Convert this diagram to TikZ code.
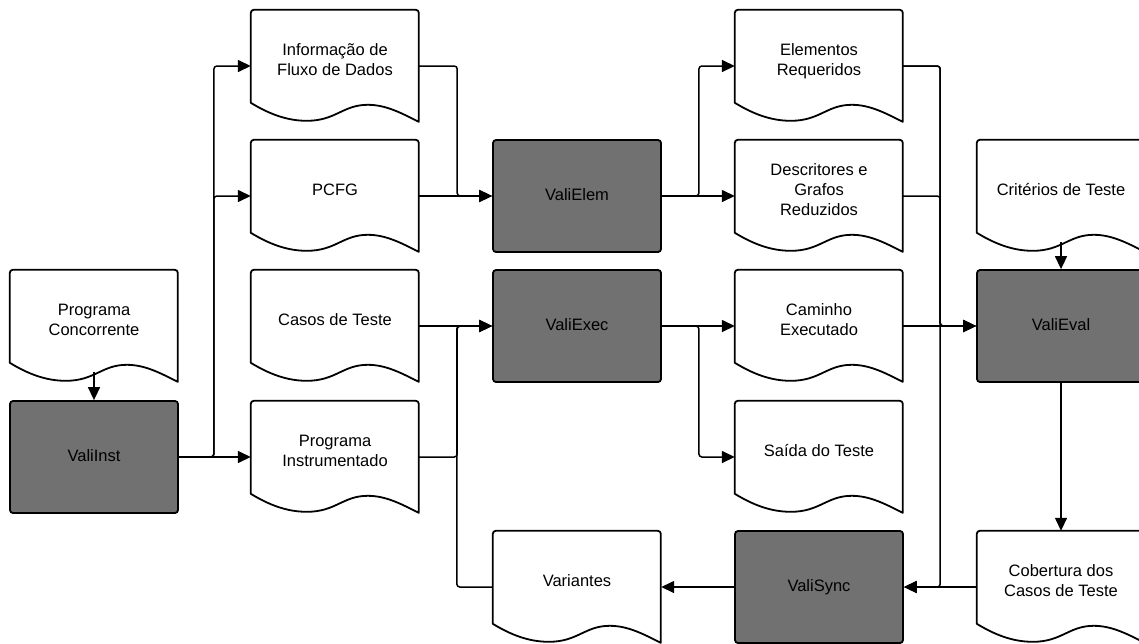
\documentclass[tikz,border=0pt]{standalone}
\usepackage{fontspec}
\setmainfont{Liberation Sans}
\usetikzlibrary{arrows.meta}
\definecolor{boxgray}{HTML}{717171}
% document label: stacked lines, centred a little above the node centre
\newcommand{\doclabel}[1]{\raisebox{0pt}[0pt][0pt]{\begin{tabular}{@{}c@{}}#1\end{tabular}}}
% process label, nudged slightly upwards
\newcommand{\proclabel}[1]{\raisebox{2pt}{#1}}

\begin{document}
\begin{tikzpicture}[x=1pt,y=1pt,
  every node/.style={font=\fontsize{16.5}{20}\selectfont, text=black},
  doc/.style={rectangle, minimum width=168pt, minimum height=112pt, inner sep=0pt},
  proc/.style={rectangle, rounded corners=3pt, draw=black, line width=1.8pt,
    fill=boxgray, minimum width=168pt, minimum height=112pt, inner sep=0pt},
  docline/.style={draw=black, line width=1.8pt, line join=round},
  link/.style={draw=black, line width=1.5pt, rounded corners=3pt,
    -{Triangle[length=13pt,width=12pt]}},
]
\useasboundingbox (0,0) rectangle (1139,-643);

% column 0
\node[doc]  (pc)    at (94,-326)  {\doclabel{Programa\\Concorrente}};
\node[proc] (vinst) at (94,-457)  {\proclabel{ValiInst}};
% column 1
\node[doc]  (info)  at (335,-66)  {\doclabel{Informação de\\Fluxo de Dados}};
\node[doc]  (pcfg)  at (335,-196) {\doclabel{PCFG}};
\node[doc]  (casos) at (335,-326) {\doclabel{Casos de Teste}};
\node[doc]  (pinst) at (335,-457) {\doclabel{Programa\\Instrumentado}};
% column 2
\node[proc] (velem) at (577,-196) {\proclabel{ValiElem}};
\node[proc] (vexec) at (577,-326) {\proclabel{ValiExec}};
\node[doc]  (var)   at (577,-587) {\doclabel{Variantes}};
% column 3
\node[doc]  (elem)  at (819,-66)  {\doclabel{Elementos\\Requeridos}};
\node[doc]  (desc)  at (819,-196) {\doclabel{Descritores e\\Grafos\\Reduzidos}};
\node[doc]  (cam)   at (819,-326) {\doclabel{Caminho\\Executado}};
\node[doc]  (said)  at (819,-457) {\doclabel{Saída do Teste}};
\node[proc] (vsync) at (819,-587) {\proclabel{ValiSync}};
% column 4
\node[doc]  (crit)  at (1061,-196) {\doclabel{Critérios de Teste}};
\node[proc] (veval) at (1061,-326) {\proclabel{ValiEval}};
\node[doc]  (cob)   at (1061,-587) {\doclabel{Cobertura dos\\Casos de Teste}};

% document outlines: rounded top corners, wavy bottom edge
\foreach \n in {pc,info,pcfg,casos,pinst,var,elem,desc,cam,said,crit,cob}
  \draw[docline, shift={(\n.north west)}]
    (0,-93) -- (0,-3) arc[start angle=180,end angle=90,radius=3]
    -- (165,0) arc[start angle=90,end angle=0,radius=3]
    -- (168,-112)
    .. controls (150,-103) and (135,-95) .. (117,-95)
    .. controls (92,-95) and (85,-111) .. (56,-111)
    .. controls (36,-111) and (18,-104) .. (0,-93) -- cycle;

% instrumentation
\draw[link] ([yshift=10pt]pc.south) -- (vinst.north);
\draw[link] (vinst.east) -- (pinst.west);
\draw[link] (vinst.east) -- ++(35,0) |- (info.west);
\draw[link] (vinst.east) -- ++(35,0) |- (pcfg.west);

% required elements
\draw[link] (info.east) -- ++(38,0) |- (velem.west);
\draw[link] (pcfg.east) -- (velem.west);
\draw[link] (velem.east) -- ++(37,0) |- (elem.west);
\draw[link] (velem.east) -- (desc.west);

% execution
\draw[link] (casos.east) -- (vexec.west);
\draw[link] (pinst.east) -- ++(38,0) |- (vexec.west);
\draw[link] (var.west) -- ++(-36,0) |- (vexec.west);
\draw[link] (vexec.east) -- (cam.west);
\draw[link] (vexec.east) -- ++(37,0) |- (said.west);

% evaluation
\draw[link] (elem.east) -- ++(37,0) |- (veval.west);
\draw[link] (desc.east) -- ++(37,0) |- (veval.west);
\draw[link] (cam.east) -- (veval.west);
\draw[link] ([yshift=10pt]crit.south) -- (veval.north);
\draw[link] (veval.south) -- (cob.north);

% synchronisation
\draw[link] (elem.east) -- ++(37,0) |- (vsync.east);
\draw[link] (cob.west) -- (vsync.east);
\draw[link] (vsync.west) -- (var.east);
\end{tikzpicture}
\end{document}
